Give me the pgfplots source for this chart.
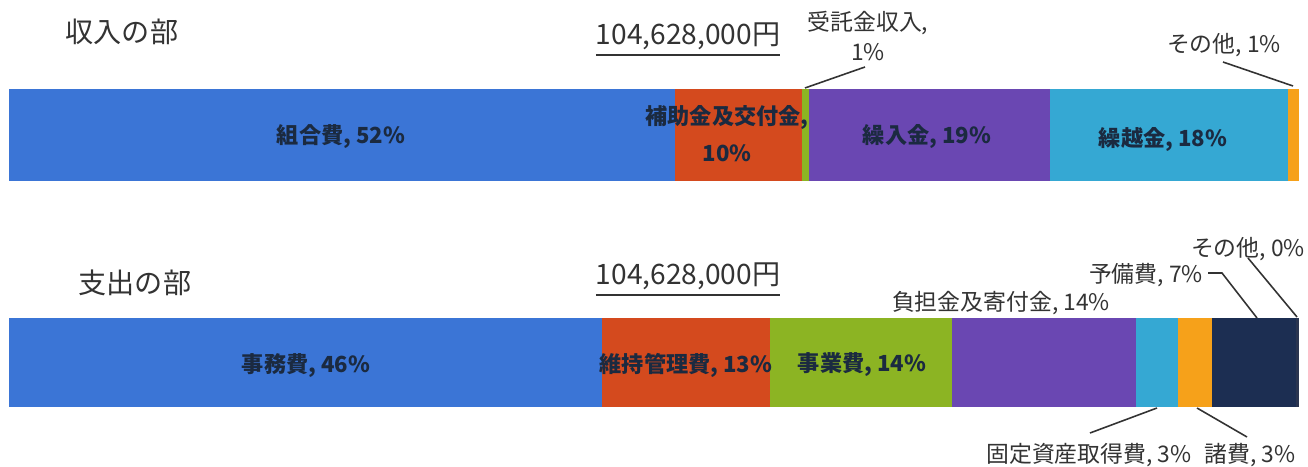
\documentclass[border=0pt]{standalone}
\usepackage{fontspec}
\setmainfont{Noto Sans CJK JP}
\usepackage{pgfplots}
\pgfplotsset{compat=1.18}

\definecolor{cBlue}{HTML}{3B75D6}
\definecolor{cRed}{HTML}{D44A1E}
\definecolor{cGreen}{HTML}{8CB423}
\definecolor{cPurple}{HTML}{6A47B2}
\definecolor{cCyan}{HTML}{35A8D3}
\definecolor{cOrange}{HTML}{F6A11A}
\definecolor{cNavy}{HTML}{1C2E52}
\definecolor{cOther}{HTML}{2A3550}
\definecolor{inlab}{HTML}{1B2A40}
\definecolor{outlab}{HTML}{333333}

\tikzset{
  inl/.style={font=\fontsize{6.3}{7.5}\selectfont\bfseries, text=inlab},
  outl/.style={font=\fontsize{6.5}{8.5}\selectfont, text=outlab, inner sep=0pt},
  ttl/.style={font=\fontsize{8}{9}\selectfont, text=outlab, inner sep=0pt},
}

\pgfplotsset{
  onebar/.style={
    xbar stacked, scale only axis, hide axis, clip=false,
    width=12.89cm, xmin=0, xmax=100, ymin=0, ymax=1,
    bar width=1, anchor=south west,
    every axis plot/.append style={draw=none}
  }
}

\begin{document}
\begin{tikzpicture}[x=0.01cm,y=-0.01cm]
\path[use as bounding box] (0,0) rectangle (1308,467);

% 収入の部
\begin{axis}[onebar, height=0.92cm, at={(0.09cm,-1.81cm)}]
\addplot[fill=cBlue]   coordinates {(51.6,0.5)};  % 組合費
\addplot[fill=cRed]    coordinates {(9.85,0.5)};  % 補助金及交付金
\addplot[fill=cGreen]  coordinates {(0.55,0.5)};  % 受託金収入
\addplot[fill=cPurple] coordinates {(18.7,0.5)};  % 繰入金
\addplot[fill=cCyan]   coordinates {(18.45,0.5)}; % 繰越金
\addplot[fill=cOrange] coordinates {(0.85,0.5)};  % その他
\end{axis}

% 支出の部
\begin{axis}[onebar, height=0.89cm, at={(0.09cm,-4.07cm)}]
\addplot[fill=cBlue]   coordinates {(46.0,0.5)};  % 事務費
\addplot[fill=cRed]    coordinates {(13.0,0.5)};  % 維持管理費
\addplot[fill=cGreen]  coordinates {(14.1,0.5)};  % 事業費
\addplot[fill=cPurple] coordinates {(14.25,0.5)}; % 負担金及寄付金
\addplot[fill=cCyan]   coordinates {(3.25,0.5)};  % 固定資産取得費
\addplot[fill=cOrange] coordinates {(2.7,0.5)};   % 諸費
\addplot[fill=cNavy]   coordinates {(6.5,0.5)};   % 予備費
\addplot[fill=cOther]  coordinates {(0.2,0.5)};   % その他
\end{axis}

% titles
\node[ttl,anchor=west] at (65,32) {収入の部};
\node[ttl,anchor=west] at (78,283) {支出の部};
\node[ttl] at (688,40) {\underline{104,628,000円}};
\node[ttl] at (688,280) {\underline{104,628,000円}};

% labels in the bars
\node[inl] at (341,137) {組合費, 52\%};
\node[inl,align=center,inner sep=0pt,font=\fontsize{6.3}{10.5}\selectfont\bfseries] at (727,134) {補助金及交付金,\\10\%};
\node[inl] at (927,137) {繰入金, 19\%};
\node[inl] at (1163,140) {繰越金, 18\%};
\node[inl] at (306,366) {事務費, 46\%};
\node[inl] at (686,365) {維持管理費, 13\%};
\node[inl] at (862,365) {事業費, 14\%};

% labels outside, with leader lines
\begin{scope}[draw=outlab, line width=0.45pt]
\node[outl,align=center] at (868,36) {受託金収入,\\1\%};
\draw (865,67) -- (805,88);
\node[outl] at (1224,45) {その他, 1\%};
\draw (1223,62) -- (1293,86);

\node[outl] at (1001,303) {負担金及寄付金, 14\%};
\node[outl] at (1146,275) {予備費, 7\%};
\draw (1208,273) -- (1222,273) -- (1257,318);
\node[outl] at (1248,249) {その他, 0\%};
\draw (1248,258) -- (1297,317);
\node[outl] at (1089,455) {固定資産取得費, 3\%};
\draw (1090,433) -- (1157,408);
\node[outl] at (1250,455) {諸費, 3\%};
\draw (1247,437) -- (1197,408);
\end{scope}
\end{tikzpicture}
\end{document}
